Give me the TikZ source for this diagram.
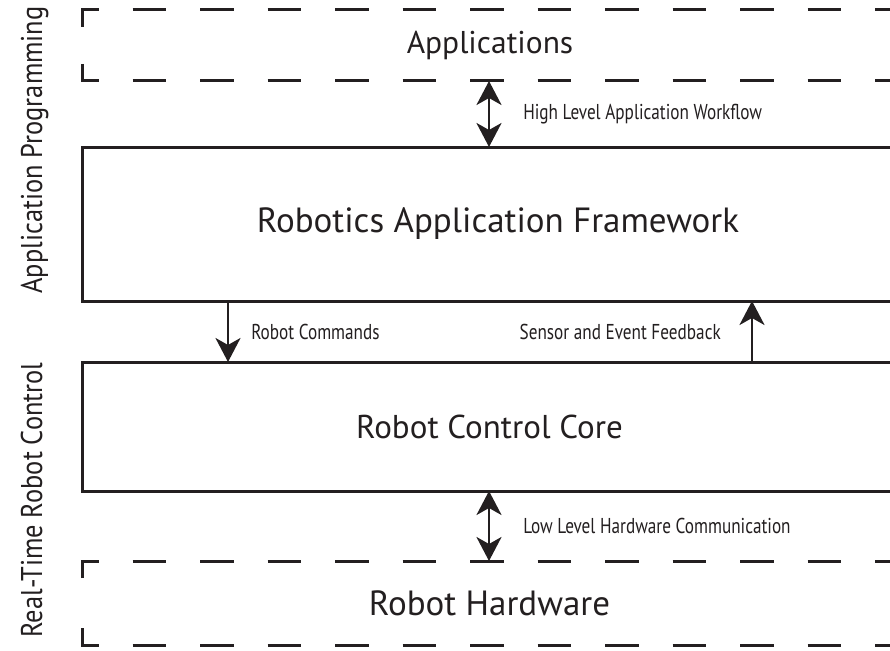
\documentclass[tikz,border=0pt]{standalone}
\usepackage{fontspec}
\setmainfont{PT Sans}
\newfontfamily\condfont[FakeStretch=0.8]{PT Sans}
\newfontfamily\semifont[FakeStretch=0.88]{PT Sans}
\usetikzlibrary{arrows.meta}
\definecolor{ink}{HTML}{231F20}
\tikzset{
  layerbox/.style={inner sep=0pt, outer sep=0pt, anchor=north west, text=ink},
  edgeline/.style={line width=3pt, draw=ink},
  dashline/.style={line width=3pt, draw=ink, dash pattern=on 33.5pt off 34pt},
  conn/.style={line width=2.5pt, draw=ink, -{Stealth[length=24pt,width=25pt,inset=7pt]}},
  dconn/.style={line width=2.5pt, draw=ink, {Stealth[length=24pt,width=25pt,inset=7pt]}-{Stealth[length=24pt,width=25pt,inset=7pt]}},
  lab/.style={font=\condfont\fontsize{21.5}{26}\selectfont, inner sep=0pt, text=ink},
  sidelab/.style={font=\semifont\fontsize{30}{36}\selectfont, inner sep=0pt, rotate=90, anchor=base, text=ink}
}
\begin{document}
\begin{tikzpicture}[x=1pt,y=-1pt]
\clip (0,0) rectangle (890,650);
\fill[white] (0,0) rectangle (890,650);

\node[layerbox, minimum width=816pt, minimum height=71pt, font=\fontsize{31.5}{38}\selectfont] (apps) at (82,10) {Applications};
\node[layerbox, minimum width=832pt, minimum height=154pt, font=\fontsize{35}{42}\selectfont] (raf) at (82,147) {Robotics Application Framework};
\node[layerbox, minimum width=815pt, minimum height=129pt, font=\fontsize{33}{40}\selectfont] (rcc) at (82,362) {Robot Control Core};
\node[layerbox, minimum width=815pt, minimum height=84pt, font=\fontsize{35}{42}\selectfont] (hw) at (82,561) {Robot Hardware};

\draw[dashline] ([yshift=-17pt]apps.north west) -- (apps.north west) -- (apps.north east);
\draw[dashline] ([yshift=17pt]apps.south west) -- (apps.south west) -- (apps.south east);
\draw[edgeline] (raf.north east) -- (raf.north west) -- (raf.south west) -- (raf.south east);
\draw[edgeline] (rcc.north east) -- (rcc.north west) -- (rcc.south west) -- (rcc.south east);
\draw[dashline] ([yshift=-17pt]hw.north west) -- (hw.north west) -- (hw.north east);
\draw[dashline] ([yshift=17pt]hw.south west) -- (hw.south west) -- (hw.south east);

\draw[dconn] ([xshift=-1pt]apps.south) -- ([xshift=-9pt]raf.north)
  node[lab, midway, anchor=west, xshift=33pt] (hl) {High Level Application Workflow};
\draw[conn] ([xshift=146pt]raf.south west) -- ([xshift=146pt]rcc.north west)
  node[lab, midway, anchor=west, xshift=22pt] (rc) {Robot Commands};
\draw[conn] ([xshift=670pt]rcc.north west) -- ([xshift=670pt]raf.south west)
  node[lab, midway, anchor=east, xshift=-30pt] (sf) {Sensor and Event Feedback};
\draw[dconn] ([xshift=-0.5pt]rcc.south) -- ([xshift=-0.5pt]hw.north)
  node[lab, midway, anchor=west, xshift=33pt] (ll) {Low Level Hardware Communication};

\node[sidelab] (ap) at (42,150) {Application Programming};
\node[sidelab] (rt) at (42,500) {Real-Time Robot Control};
\end{tikzpicture}
\end{document}
